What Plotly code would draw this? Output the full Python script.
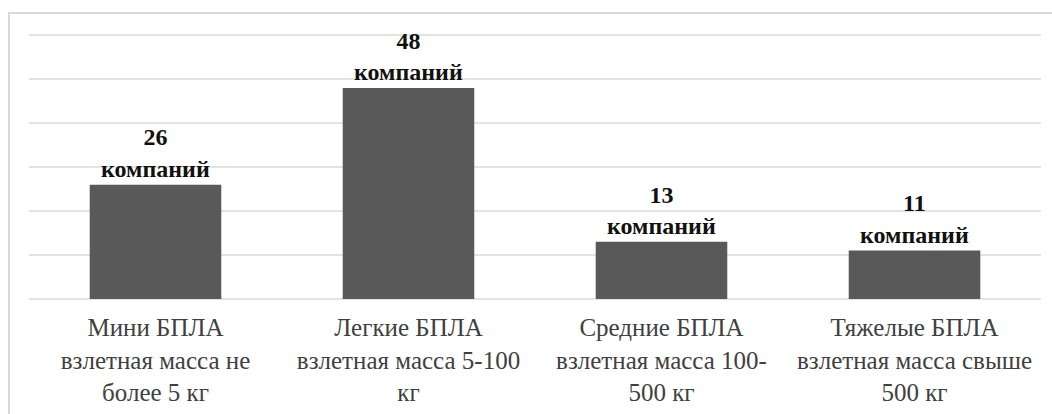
import plotly.graph_objects as go

categories = [
    "Мини БПЛА<br>взлетная масса не<br>более 5 кг",
    "Легкие БПЛА<br>взлетная масса 5-100<br>кг",
    "Средние БПЛА<br>взлетная масса 100-<br>500 кг",
    "Тяжелые БПЛА<br>взлетная масса свыше<br>500 кг",
]
values = [26, 48, 13, 11]
unit_label = "компаний"

labels = [f"<b>{v}</b><br><b>{unit_label}</b>" for v in values]

SERIF = "Liberation Serif, Times New Roman, DejaVu Serif, serif"

fig = go.Figure(
    go.Bar(
        x=categories,
        y=values,
        marker=dict(color="#595959", line=dict(width=0)),
        width=0.52,
        text=labels,
        textposition="outside",
        textfont=dict(family=SERIF, size=24, color="#111111"),
        cliponaxis=False,
        hoverinfo="skip",
    )
)

fig.update_layout(
    width=1052,
    height=414,
    margin=dict(l=29, r=11, t=34, b=115, autoexpand=False),
    paper_bgcolor="white",
    plot_bgcolor="white",
    showlegend=False,
    font=dict(family=SERIF, size=25, color="#404040"),
    xaxis=dict(
        showgrid=False,
        showline=False,
        ticks="",
        automargin=False,
        ticklabelstandoff=11,
        tickfont=dict(family=SERIF, size=25, color="#404040"),
    ),
    yaxis=dict(
        range=[0, 60.25],
        dtick=10,
        showgrid=True,
        gridcolor="#e3e3e3",
        gridwidth=2,
        showticklabels=False,
        automargin=False,
        zeroline=True,
        zerolinecolor="#e3e3e3",
        zerolinewidth=2,
        showline=False,
    ),
    shapes=[
        dict(
            type="rect",
            xref="paper",
            yref="paper",
            x0=(9 - 29) / 1012,
            x1=1.05,
            y0=-0.6,
            y1=(299 - 13) / 265,
            line=dict(color="#d9d9d9", width=2),
            fillcolor="rgba(0,0,0,0)",
            layer="below",
        )
    ],
)

fig.write_html(
    "out.html",
    config={"displayModeBar": False},
    post_script="document.body.style.margin='0';document.body.style.overflow='hidden';",
)
